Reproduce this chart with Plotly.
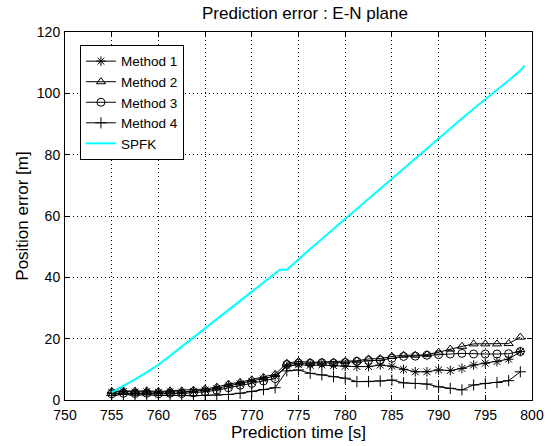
import plotly.graph_objects as go

# Sample times for the four prediction methods [s]
t_methods = [755 + 1.25 * k for k in range(36)]

# Position error for each method [m]
method1 = [2.5, 2.8, 2.6, 2.7, 2.5, 2.7, 2.6, 2.8, 3.2, 3.8, 4.6, 5.3, 6.0, 6.8, 7.8,
           11.0, 11.5, 11.3, 11.4, 11.2, 11.0, 10.9, 10.9, 11.4, 11.0, 10.0, 9.2, 9.2,
           9.8, 9.6, 10.3, 11.4, 12.0, 12.5, 13.3, 15.8]
method2 = [2.8, 3.0, 2.9, 3.0, 2.8, 3.0, 3.0, 3.2, 3.6, 4.2, 5.2, 5.8, 6.6, 7.4, 8.4,
           12.0, 12.6, 12.3, 12.4, 12.4, 12.6, 12.8, 13.4, 13.5, 14.2, 14.6, 14.6, 14.8,
           15.6, 16.6, 17.5, 18.3, 18.3, 18.3, 18.4, 20.5]
method3 = [2.0, 2.2, 2.1, 2.2, 2.0, 2.2, 2.1, 2.3, 2.7, 3.2, 4.0, 4.8, 5.4, 6.2, 7.0,
           11.6, 12.0, 12.0, 12.1, 12.0, 12.2, 12.6, 12.9, 13.0, 13.6, 14.2, 14.3, 14.6,
           14.8, 15.0, 15.2, 15.0, 15.0, 15.0, 15.1, 15.8]
method4 = [1.5, 1.8, 1.6, 1.7, 1.5, 1.6, 1.5, 1.4, 1.5, 1.6, 1.8, 2.2, 2.8, 3.4, 4.0,
           9.5, 9.8, 8.7, 8.2, 7.6, 7.1, 6.0, 6.0, 6.2, 6.5, 5.6, 5.4, 5.2,
           4.3, 3.8, 3.3, 4.9, 5.4, 5.7, 6.3, 9.2]

# SPFK error trace
t_spfk = [755, 756.25, 757.5, 758.75, 760, 761.25, 762.5, 763.75, 765, 766.25, 767.5,
          768.75, 770, 771.25, 772.5, 773.0, 773.75, 775, 776.25, 777.5, 778.75, 780,
          781.25, 782.5, 783.75, 785, 786.25, 787.5, 788.75, 790, 791.25, 792.5,
          793.75, 795, 796.25, 797.5, 798.75, 799.2]
spfk = [2.5, 4.5, 6.7, 9.0, 11.5, 14.4, 17.4, 20.4, 23.5, 26.5, 29.3,
        32.2, 35.2, 38.2, 41.5, 42.5, 42.5, 46.0, 49.2, 52.5, 55.8, 59.0,
        62.3, 65.6, 68.9, 72.2, 75.4, 78.7, 82.0, 85.3, 88.5, 91.8,
        95.0, 98.0, 101.0, 104.2, 107.4, 109.0]

FONT = "Liberation Sans, Arial, sans-serif"

fig = go.Figure()

series = [
    ("Method 1", method1, "asterisk-open"),
    ("Method 2", method2, "triangle-up-open"),
    ("Method 3", method3, "circle-open"),
    ("Method 4", method4, "cross-thin-open"),
]
for name, vals, sym in series:
    fig.add_trace(go.Scatter(
        x=t_methods, y=vals, name=name, mode="lines+markers",
        line=dict(color="black", width=1),
        marker=dict(symbol=sym, size=8, color="black",
                    line=dict(color="black", width=1)),
    ))

fig.add_trace(go.Scatter(
    x=t_spfk, y=spfk, name="SPFK", mode="lines",
    line=dict(color="#00FFFF", width=2),
))

axis_common = dict(
    showline=True, linecolor="black", linewidth=1, mirror="ticks",
    ticks="inside", ticklen=5, tickcolor="black",
    showgrid=True, gridcolor="black", griddash="1px,3px", gridwidth=1,
    zeroline=False, automargin=False,
    tickfont=dict(family=FONT, size=14, color="black"),
)

fig.update_layout(
    width=551, height=446,
    margin=dict(l=65, r=19, t=32, b=46),
    paper_bgcolor="white", plot_bgcolor="white",
    title=dict(text="Prediction error : E-N plane", x=0.5535, xanchor="center",
               y=0.971, yanchor="middle",
               font=dict(family=FONT, size=17, color="black")),
    xaxis=dict(range=[750, 800], dtick=5, tick0=750, ticklabelstandoff=2,
               title=dict(text="Prediction time [s]", standoff=2,
                          font=dict(family=FONT, size=17, color="black")),
               **axis_common),
    yaxis=dict(range=[0, 120], dtick=20, tick0=0, ticklabelstandoff=1,
               title=dict(text="Position error [m]", standoff=3,
                          font=dict(family=FONT, size=17, color="black")),
               **axis_common),
    legend=dict(x=0.032, y=0.965, xanchor="left", yanchor="top",
                bgcolor="white", bordercolor="black", borderwidth=1,
                font=dict(family=FONT, size=13.5, color="black"),
                tracegroupgap=0),
    showlegend=True,
)

fig.write_html("out.html")
